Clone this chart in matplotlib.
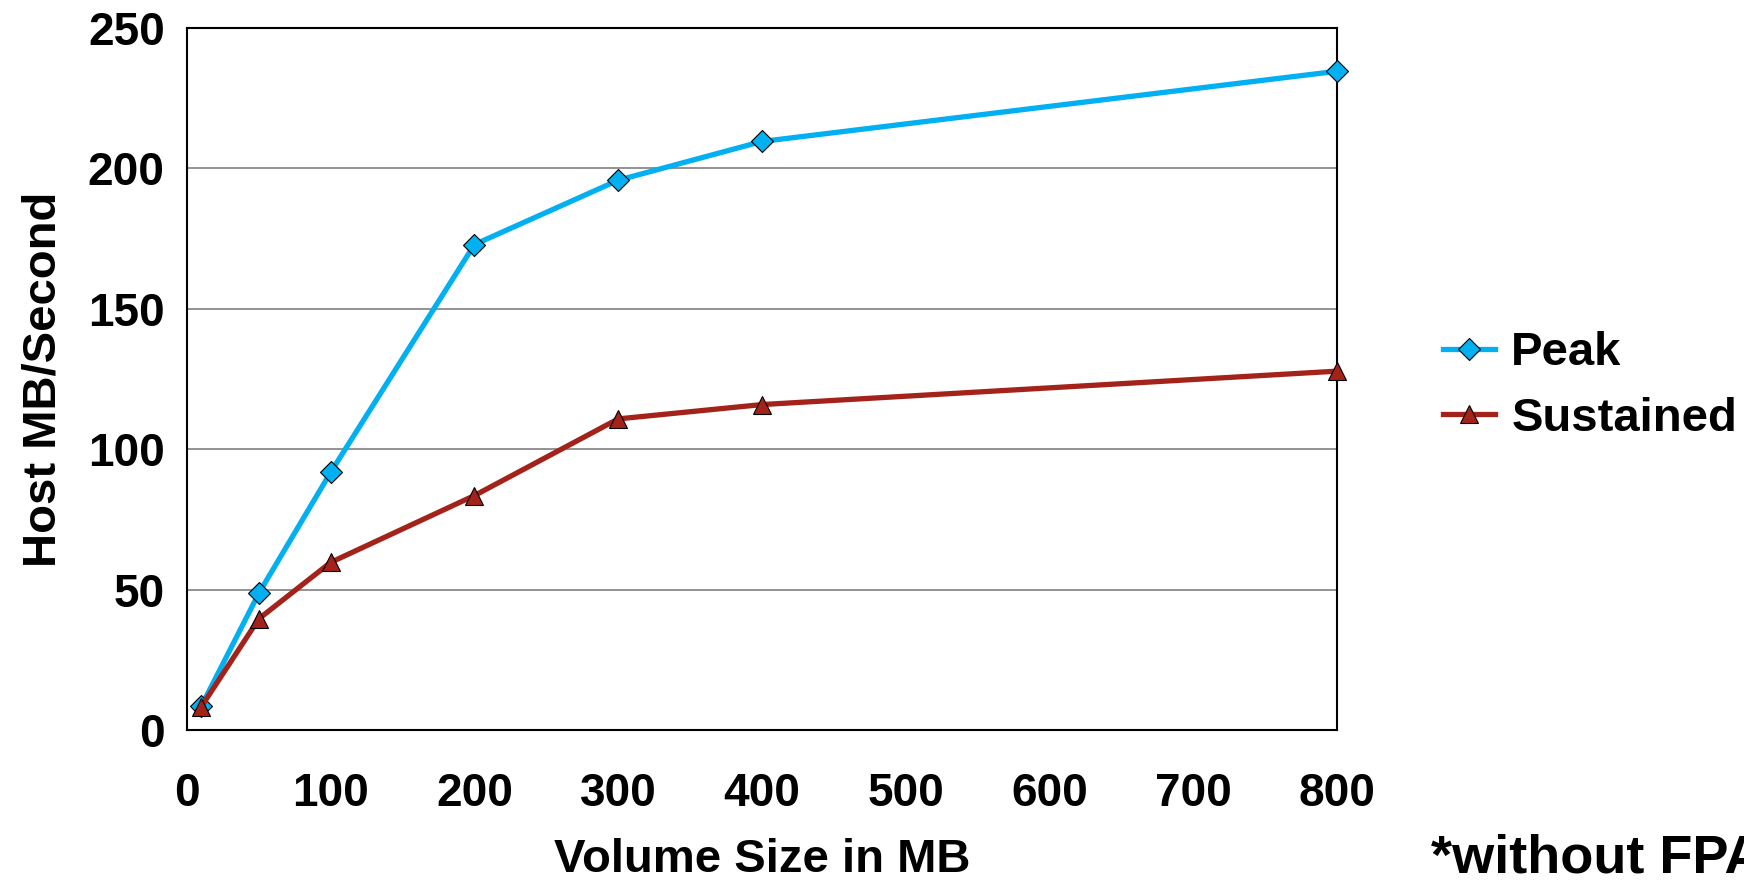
import matplotlib.pyplot as plt

# Datos
volume_mb = [10, 50, 100, 200, 300, 400, 800]
peak = [8.5, 48.7, 91.8, 172.9, 195.8, 209.6, 234.6]
sustained = [8.3, 39.6, 59.7, 83.5, 110.8, 115.9, 127.8]
x_ticks = [0, 100, 200, 300, 400, 500, 600, 700, 800]
y_ticks = [0, 50, 100, 150, 200, 250]

plt.rcParams['font.family'] = ['Liberation Sans', 'DejaVu Sans']
plt.rcParams['font.weight'] = 'bold'

fig = plt.figure(figsize=(17.44, 8.84), dpi=100)
ax = fig.add_axes([0.1072, 0.1742, 0.6594, 0.7941])

ax.plot(volume_mb, peak, color='#00B0F0', lw=3.8, marker='D', markersize=11,
        markerfacecolor='#00B0F0', markeredgecolor='black', markeredgewidth=0.8,
        label='Peak', clip_on=False, zorder=3)
ax.plot(volume_mb, sustained, color='#A3221A', lw=3.8, marker='^', markersize=13,
        markerfacecolor='#A3221A', markeredgecolor='black', markeredgewidth=0.8,
        label='Sustained', clip_on=False, zorder=4)

ax.set_xlim(0, 800)
ax.set_ylim(0, 250)
ax.set_xticks(x_ticks)
ax.set_yticks(y_ticks)
ax.tick_params(axis='both', length=0, labelsize=33)
ax.tick_params(axis='x', pad=30)
ax.tick_params(axis='y', pad=16)
for lbl in ax.get_xticklabels() + ax.get_yticklabels():
    lbl.set_fontweight('bold')
ax.yaxis.grid(True, color='#808080', lw=1.2)
ax.set_axisbelow(True)
for s in ax.spines.values():
    s.set_color('black')
    s.set_linewidth(1.5)

ax.set_xlabel('Volume Size in MB', fontsize=34, fontweight='bold', labelpad=16)
ax.set_ylabel('Host MB/Second', fontsize=34, fontweight='bold', labelpad=16)

ax.legend(loc='center left', bbox_to_anchor=(1.055, 0.49), frameon=False,
          fontsize=34, handlelength=1.1, handletextpad=0.35, labelspacing=0.45)

fig.text(0.8205, 0.013, '*without FPA', fontsize=39, fontweight='bold', ha='left', va='baseline')

fig.savefig('out.png', dpi=100)
